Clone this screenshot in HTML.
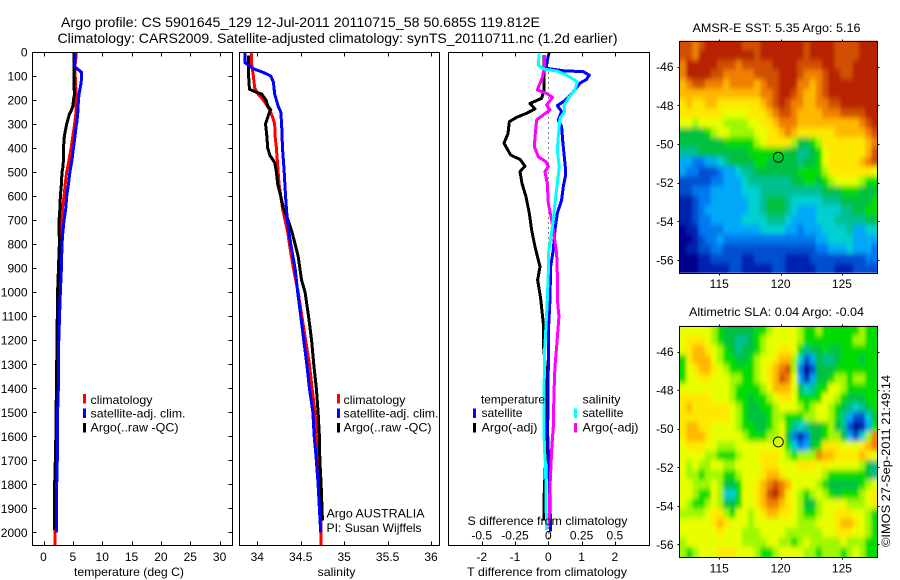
<!DOCTYPE html>
<html lang="en">
<head>
<meta charset="utf-8">
<title>Argo profile</title>
<style>
html,body{margin:0;padding:0;background:#fff;}
svg{display:block;}
text{font-family:"Liberation Sans",sans-serif;font-size:12px;fill:#000;}
</style>
</head>
<body>
<svg id="chart" xmlns="http://www.w3.org/2000/svg" width="900" height="580" viewBox="0 0 900 580">
<rect x="0" y="0" width="900" height="580" fill="#fff"/>
<g id="plots"></g>
<g id="labels">
<text x="61" y="27" style="font-size:14px" textLength="479" lengthAdjust="spacingAndGlyphs">Argo profile: CS 5901645_129 12-Jul-2011 20110715_58 50.685S 119.812E</text>
<text x="57.5" y="43" style="font-size:14px" textLength="560" lengthAdjust="spacingAndGlyphs">Climatology: CARS2009. Satellite-adjusted climatology: synTS_20110711.nc (1.2d earlier)</text>
<text x="74" y="576" textLength="110" lengthAdjust="spacingAndGlyphs">temperature (deg C)</text>
<text x="317.5" y="576" textLength="38" lengthAdjust="spacingAndGlyphs">salinity</text>
<text x="467" y="576" textLength="160" lengthAdjust="spacingAndGlyphs">T difference from climatology</text>
<text x="467.5" y="525" textLength="160" lengthAdjust="spacingAndGlyphs">S difference from climatology</text>
<text x="326.5" y="517.5" textLength="98" lengthAdjust="spacingAndGlyphs">Argo AUSTRALIA</text>
<text x="326.5" y="532" textLength="95" lengthAdjust="spacingAndGlyphs">PI: Susan Wijffels</text>
<text x="692.5" y="32" textLength="168" lengthAdjust="spacingAndGlyphs">AMSR-E SST: 5.35 Argo: 5.16</text>
<text x="689" y="316" textLength="175" lengthAdjust="spacingAndGlyphs">Altimetric SLA: 0.04 Argo: -0.04</text>
<text transform="translate(890,547) rotate(-90)" x="0" y="0" textLength="172" lengthAdjust="spacingAndGlyphs">©IMOS 27-Sep-2011 21:49:14</text>
</g>
<g id="legends">
<g>
<rect x="83" y="394" width="3" height="9.5" fill="#f00"/>
<rect x="83" y="408.5" width="3" height="9.5" fill="#00f"/>
<rect x="83" y="423" width="3" height="9.5" fill="#000"/>
<text x="90.5" y="404" textLength="62" lengthAdjust="spacingAndGlyphs">climatology</text>
<text x="90.5" y="417.5" textLength="95" lengthAdjust="spacingAndGlyphs">satellite-adj. clim.</text>
<text x="90.5" y="431.5" textLength="88" lengthAdjust="spacingAndGlyphs">Argo(..raw -QC)</text>
</g>
<g>
<rect x="337" y="394" width="3" height="9.5" fill="#f00"/>
<rect x="337" y="408.5" width="3" height="9.5" fill="#00f"/>
<rect x="337" y="423" width="3" height="9.5" fill="#000"/>
<text x="343.5" y="404" textLength="62" lengthAdjust="spacingAndGlyphs">climatology</text>
<text x="343.5" y="417.5" textLength="95" lengthAdjust="spacingAndGlyphs">satellite-adj. clim.</text>
<text x="343.5" y="431.5" textLength="88" lengthAdjust="spacingAndGlyphs">Argo(..raw -QC)</text>
</g>
<g>
<rect x="473" y="408.5" width="3" height="9.5" fill="#00f"/>
<rect x="473" y="423" width="3" height="9.5" fill="#000"/>
<rect x="574" y="408.5" width="3" height="9.5" fill="#0ff"/>
<rect x="574" y="423" width="3" height="9.5" fill="#f0f"/>
<text x="481" y="403.5" textLength="64" lengthAdjust="spacingAndGlyphs">temperature</text>
<text x="481.5" y="417" textLength="41" lengthAdjust="spacingAndGlyphs">satellite</text>
<text x="481.5" y="431.5" textLength="56" lengthAdjust="spacingAndGlyphs">Argo(-adj)</text>
<text x="582.5" y="403.5" textLength="38" lengthAdjust="spacingAndGlyphs">salinity</text>
<text x="582.5" y="417" textLength="41" lengthAdjust="spacingAndGlyphs">satellite</text>
<text x="582.5" y="431.5" textLength="56" lengthAdjust="spacingAndGlyphs">Argo(-adj)</text>
</g>
</g>
</svg>
<script>
// Depth axis ticks
const depthTicks = [0,100,200,300,400,500,600,700,800,900,1000,1100,1200,1300,1400,1500,1600,1700,1800,1900,2000];
const tempTicks = [0,5,10,15,20,25,30];
const salTicks = [34,34.5,35,35.5,36];
const salTickLabels = ['34','34.5','35','35.5','36'];
const tDiffTicks = [-2,-1,0,1,2];
const sDiffTicks = [-0.5,-0.25,0,0.25,0.5];
const sDiffTickLabels = ['-0.5','-0.25','0','0.25','0.5'];
const lonTicks = [115,120,125];
const latTicks = [-46,-48,-50,-52,-54,-56];

// Temperature profiles
const climTempDepth = [5,50,100,150,200,250,300,350,400,450,500,550,600,650,700,800,1000,1300,1600,1800,2000,2054];
const climTemp = [5.6,5.4,5.4,5.5,5.55,5.55,5.3,5.0,4.7,4.35,3.95,3.7,3.5,3.25,3.15,2.9,2.7,2.35,2.25,2.1,1.95,1.95];
const argoTempDepth = [5,50,100,150,175,200,225,240,260,300,350,400,450,480,500,550,600,650,700,800,900,1000,1300,1650,1800,1990];
const argoTemp = [5.2,5.2,5.2,5.2,5.3,5.1,5.0,4.8,4.4,3.95,3.55,3.4,3.4,3.3,3.15,3.05,2.87,2.8,2.65,2.7,2.55,2.4,2.25,2.07,1.9,1.9];
const satTempDepth = [5,60,70,85,100,130,175,200,250,290,310,350,400,450,500,550,600,650,700,750,800,900,1000,1200,1400,1500,1700,1800,1900,2000];
const satTemp = [5.4,5.3,5.75,6.5,6.5,6.4,6.05,5.95,5.85,5.7,5.55,5.37,5.1,4.85,4.5,4.25,3.95,3.8,3.5,3.3,3.15,3.05,2.87,2.6,2.53,2.4,2.35,2.25,2.2,2.2];

// Salinity profiles
const climSalDepth = [5,50,100,150,175,200,240,275,300,350,400,450,500,550,600,650,700,750,800,900,1000,1300,1400,1500,1600,1700,1800,1900,2054];
const climSal = [33.93,33.935,33.955,33.97,34.01,34.07,34.14,34.18,34.2,34.205,34.22,34.23,34.24,34.25,34.27,34.29,34.32,34.35,34.37,34.415,34.47,34.6,34.63,34.665,34.68,34.71,34.72,34.73,34.735];
const argoSalDepth = [15,100,155,165,175,200,225,240,260,300,350,400,430,460,500,550,600,650,700,750,800,850,900,950,1000,1100,1200,1300,1400,1500,1600,1700,1800,1900,1950];
const argoSal = [33.9,33.9,33.91,33.97,34.05,34.1,34.12,34.155,34.13,34.095,34.11,34.12,34.145,34.2,34.22,34.235,34.27,34.3,34.355,34.4,34.435,34.47,34.49,34.51,34.55,34.59,34.625,34.65,34.68,34.7,34.715,34.72,34.735,34.745,34.75];
const satSalDepth = [5,45,55,70,85,100,125,175,225,250,300,400,500,600,700,800,900,1000,1300,1400,1500,1600,1700,1800,1900,2000];
const satSal = [33.86,33.86,33.9,33.955,34.07,34.155,34.185,34.2,34.24,34.27,34.28,34.29,34.31,34.325,34.345,34.385,34.435,34.465,34.57,34.6,34.64,34.655,34.68,34.7,34.715,34.73];

// Difference profiles
const tSatDepth = [0,47,68,78,82,96,114,130,158,189,207,223,248,283,311,366,422,477,519,561,616,672,741,824,894,1032,1143,1310,1587,1699,1865,1997];
const tSatDiff = [0.03,-0.05,-0.05,0.45,1.05,1.23,1.15,0.95,0.8,0.6,0.45,0.27,0.4,0.3,0.4,0.43,0.47,0.51,0.51,0.45,0.4,0.27,0.2,0.15,0.07,0.05,0.01,0,-0.02,0.01,0.05,0.07];
const tArgoDepth = [12,89,158,193,214,237,255,272,290,339,380,429,447,475,498,547,602,672,741,810,894,949,1026,1130,1213,1310,1587,1865,1950];
const tArgoDiff = [-0.13,-0.13,-0.13,-0.2,-0.55,-0.4,-0.65,-0.95,-1.17,-1.21,-1.33,-1.13,-0.85,-0.7,-0.85,-0.79,-0.67,-0.57,-0.5,-0.4,-0.25,-0.32,-0.23,-0.15,-0.15,-0.09,-0.05,-0.13,-0.13];
const sSatDepth = [6,54,71,79,96,124,158,193,223,248,276,352,408,477,547,630,699,769,838,921,1032,1143,1240,1448,1643,1726,1865,1990];
const sSatDiff = [-0.0675,-0.075,-0.0375,0.0625,0.1375,0.2175,0.2,0.15,0.1175,0.1225,0.0875,0.075,0.0675,0.0825,0.0675,0.05,0.0375,0.02,0,0,-0.0075,-0.0175,-0.0275,-0.0325,-0.03,-0.02,-0.0175,-0.0125];
const sArgoDepth = [12,61,103,158,172,189,221,241,283,339,394,436,457,477,498,547,630,699,769,838,921,1026,1101,1226,1310,1421,1560,1657,1726,1810,1920,1976];
const sArgoDiff = [-0.03,-0.03,-0.0425,-0.0825,-0.0125,0.0325,-0.0125,0.0125,-0.0875,-0.0975,-0.105,-0.075,-0.0175,0,-0.025,-0.0075,0,0.025,0.045,0.0625,0.0675,0.0675,0.08,0.0625,0.05,0.0425,0.0375,0.025,0.02,0.0125,0.0075,0];

// Float position
const argoLon = 119.812;
const argoLat = -50.685;

// Colour level of the SST field (rows north to south, columns west to east)
const sstLevels = [
[14,14,13,14,15,15,15,15,15,15,14,14,14,15,15,15,15,15,15,15,14,15,15,15,15,14,14,14,14,15,15,15],
[14,14,13,15,15,15,15,15,15,15,15,15,14,15,15,15,15,15,15,15,14,15,15,15,15,14,14,14,14,15,15,15],
[13,15,15,15,15,15,14,14,14,13,14,14,14,14,14,15,15,15,15,14,14,14,14,15,15,14,14,14,15,15,15,15],
[13,15,15,15,15,14,14,13,13,13,13,13,14,14,14,14,15,15,15,14,13,13,13,14,15,15,14,14,15,15,15,15],
[12,13,14,14,13,13,13,12,13,13,13,13,12,13,14,14,15,15,15,13,13,12,13,14,15,15,15,15,15,15,15,15],
[12,12,12,12,12,12,12,12,12,12,12,12,12,13,13,14,15,15,14,13,12,12,13,14,15,15,15,15,15,15,15,15],
[11,12,11,11,12,12,11,11,11,11,11,11,11,12,13,14,15,14,13,13,12,12,13,13,14,14,15,15,15,15,15,15],
[11,11,11,11,11,11,11,10,10,10,10,11,11,11,12,13,14,14,13,12,12,12,12,13,13,13,14,14,14,14,15,15],
[10,10,9,10,10,10,10,9,9,9,9,10,10,11,11,12,13,13,13,12,12,12,12,12,12,12,12,12,12,13,14,15],
[7,7,7,7,8,9,10,10,9,9,9,9,10,10,11,11,12,13,12,11,11,11,11,11,11,12,12,12,12,12,13,14],
[7,7,7,7,7,7,7,8,8,8,8,8,9,10,11,11,11,11,9,7,7,8,9,11,11,11,11,11,11,11,12,13],
[6,6,6,7,7,7,7,7,7,7,7,8,8,8,8,8,8,7,7,6,6,7,8,10,11,11,11,11,11,11,12,14],
[4,4,3,3,4,4,5,6,7,7,7,7,8,8,7,7,7,7,7,6,7,7,8,10,11,11,11,11,11,12,13,14],
[4,3,3,2,2,2,3,4,4,5,6,6,7,7,7,7,7,7,7,8,8,8,8,9,11,11,11,11,11,11,11,10],
[2,2,2,2,2,3,3,4,4,4,5,6,6,6,6,6,6,6,7,7,8,8,7,8,9,10,10,10,10,9,8,8],
[2,2,3,3,3,4,4,4,4,4,5,5,5,6,6,6,6,6,6,6,6,6,6,7,7,7,8,8,8,7,7,7],
[1,1,2,3,3,4,4,4,4,4,4,5,5,6,7,7,7,6,5,5,5,5,5,6,6,6,7,7,7,7,7,8],
[1,1,2,3,4,4,4,4,4,4,4,5,5,6,7,7,7,6,5,4,4,4,5,5,5,5,6,6,7,7,8,8],
[1,1,2,3,3,4,4,4,4,4,5,5,5,5,6,6,6,5,4,4,4,4,5,5,5,6,6,6,6,6,7,7],
[0,1,1,3,3,3,3,4,4,4,4,4,4,5,5,5,5,4,4,3,4,4,4,5,5,5,5,6,4,4,5,5],
[0,0,1,2,3,3,4,3,3,3,3,3,3,3,3,3,3,3,3,3,3,3,4,4,5,5,5,5,4,4,4,4],
[0,1,1,2,2,3,3,2,2,2,2,2,2,2,2,2,2,2,2,2,2,2,3,3,4,4,4,5,4,4,4,3],
[0,0,0,1,1,2,2,2,2,2,1,1,2,2,2,2,2,1,1,1,1,2,2,2,2,2,2,2,2,2,3,3],
[0,0,0,1,1,1,1,1,2,2,1,1,1,1,1,2,2,1,1,1,1,1,2,2,2,1,1,1,2,2,2,2]
];

// Colour level of the SLA field (rows north to south, columns west to east)
const slaLevels = [
[10,10,10,10,10,9,8,7,7,7,7,7,8,8,9,10,10,10,10,9,8,8,9,8,8,8,8,8,8,9,8,8],
[10,11,11,11,10,9,8,7,7,6,6,7,8,9,10,10,10,10,10,9,8,8,8,8,8,8,8,8,9,9,8,8],
[10,11,12,12,11,10,9,8,7,6,7,7,8,9,10,10,11,11,10,8,6,7,7,8,7,7,8,8,8,8,8,8],
[8,11,12,12,12,10,9,8,8,7,7,8,9,10,10,11,12,12,9,5,2,4,7,6,6,7,8,8,8,7,8,8],
[8,10,11,12,12,11,10,9,8,8,8,8,9,10,11,12,13,14,9,3,0,2,7,7,7,8,8,8,8,8,8,8],
[8,10,10,11,11,10,10,10,9,9,8,8,9,10,11,12,14,13,10,4,1,4,7,7,8,9,9,8,9,9,8,8],
[10,10,10,10,10,10,10,10,9,8,8,8,8,9,10,12,12,12,10,7,5,6,8,8,10,10,9,8,8,8,8,8],
[11,11,11,11,11,10,10,10,9,8,8,7,8,8,9,10,11,11,10,8,8,8,8,10,10,9,8,7,7,7,8,8],
[11,12,11,11,11,11,11,11,10,9,8,7,7,8,8,9,10,10,10,9,8,9,10,10,9,8,7,6,5,6,7,8],
[11,11,11,11,11,11,11,11,10,9,8,7,7,7,8,9,9,8,8,8,9,9,10,10,9,8,6,4,2,2,5,7],
[11,12,12,11,11,10,10,10,10,9,8,8,7,7,8,9,10,8,6,5,6,7,7,8,9,7,6,2,0,1,4,8],
[11,12,12,12,11,10,10,10,10,10,9,8,8,8,9,9,10,7,3,1,3,7,7,8,9,9,7,4,2,5,9,13],
[10,11,11,11,10,10,9,9,9,10,10,10,10,10,10,10,10,8,5,3,4,7,8,11,11,11,10,10,10,11,12,13],
[10,10,10,10,9,9,8,8,8,9,10,10,10,11,11,11,10,9,8,9,9,9,13,12,12,11,11,11,11,12,11,10],
[10,9,10,9,9,10,10,9,9,10,10,10,10,11,11,11,10,10,10,11,11,11,10,11,10,10,10,10,10,9,7,6],
[10,9,9,8,9,9,9,8,8,9,10,10,10,11,12,12,11,10,10,10,10,10,10,9,8,8,8,8,8,8,7,6],
[10,10,9,9,9,10,9,7,7,8,10,10,11,12,13,14,13,12,10,10,10,10,9,8,7,7,7,7,7,8,9,10],
[10,10,9,8,8,10,9,5,5,8,10,10,11,12,14,15,13,11,10,9,8,9,10,9,8,7,8,8,8,9,10,11],
[10,9,8,8,9,10,9,7,7,8,10,10,11,12,13,13,12,11,10,9,7,7,9,10,10,10,10,9,9,9,10,11],
[9,9,9,9,10,11,11,9,8,10,10,9,10,11,12,12,11,11,10,9,8,8,9,10,10,11,11,11,10,10,9,8],
[10,10,10,10,10,11,12,11,10,10,10,9,10,10,10,10,10,10,10,9,9,9,10,10,10,11,12,12,11,10,9,8],
[10,10,10,10,10,10,11,10,10,10,9,9,9,10,10,10,10,9,9,9,9,9,9,10,10,11,11,11,10,10,9,8],
[9,10,10,10,10,10,10,10,10,10,9,9,9,9,10,10,9,9,8,9,10,9,9,9,9,9,10,9,9,9,8,8],
[9,8,9,10,10,10,11,11,11,10,10,10,9,8,8,9,10,10,10,10,9,9,8,9,9,9,8,9,10,9,8,8]
];

const levelColors = ['#00008f','#0020b0','#0050d0','#0078f0','#00a8f8','#00d0d0','#00c090','#00c040','#00dc00','#a0f800','#e8ff00','#ffe800','#ffb800','#f08000','#d05000','#b82000'];

const SVGNS = 'http://www.w3.org/2000/svg';
const plots = document.getElementById('plots');
function make(parent, tag, attrs, content) {
  const n = document.createElementNS(SVGNS, tag);
  for (const k in attrs) n.setAttribute(k, attrs[k]);
  if (content !== undefined) n.textContent = content;
  parent.appendChild(n);
  return n;
}

// Axis scales
function yDepth(d) { return 52 + d * 0.2402; }
function xTemp(t) { return 43.5 + t * 5.87; }
function xSal(s) { return 257.3 + (s - 34) * 86.85; }
function xTDiff(t) { return 548.3 + t * 33.3; }
function xSDiff(s) { return 548.3 + s * 4 * 33.3; }
function xLon(lon) { return 780.6 + (lon - 120) * 12.27; }
function ySstLat(lat) { return 66.7 + (-46 - lat) * 19.33; }
function ySlaLat(lat) { return 351.7 + (-46 - lat) * 19.26; }

function frame(x0, x1, y0, y1, name) {
  const f = make(plots, 'rect', {x: x0, y: y0, width: x1 - x0, height: y1 - y0, fill: 'none', stroke: '#000', 'stroke-width': 1, 'shape-rendering': 'crispEdges'});
  
  
}
function tick(x1, y1, x2, y2) {
  const t = make(plots, 'line', {x1: x1, y1: y1, x2: x2, y2: y2, stroke: '#000', 'stroke-width': 1, 'shape-rendering': 'crispEdges'});
  
  
}
function label(x, y, str, anchor) {
  const t = make(plots, 'text', {x: x, y: y, 'text-anchor': anchor}, str);
  
  
}
function series(depths, values, xf, color, name, width) {
  let pts = '';
  for (let i = 0; i < depths.length; i++) pts += xf(values[i]).toFixed(2) + ',' + yDepth(depths[i]).toFixed(2) + ' ';
  const l = make(plots, 'polyline', {points: pts, fill: 'none', stroke: color, 'stroke-width': width, 'stroke-linejoin': 'round', 'shape-rendering': 'crispEdges'});
  
  
}

const TOP = 52.5, BOT = 545.5;

// Panel 1: temperature
series(climTempDepth, climTemp, xTemp, '#f00', 'temperature-climatology-line', 3);
series(argoTempDepth, argoTemp, xTemp, '#000', 'temperature-argo-line', 3);
series(satTempDepth, satTemp, xTemp, '#00f', 'temperature-satellite-line', 3);
frame(32.5, 232.5, TOP, BOT, 'temperature-axes');
depthTicks.forEach(function (d) {
  const y = Math.round(yDepth(d)) + 0.5;
  tick(32.5, y, 36.5, y);
  tick(228.5, y, 232.5, y);
  label(27.5, yDepth(d) + 4.5, String(d), 'end');
});
tempTicks.forEach(function (t) {
  const x = Math.round(xTemp(t)) + 0.5;
  tick(x, TOP, x, TOP + 4);
  tick(x, BOT - 4, x, BOT);
  label(xTemp(t), 561, String(t), 'middle');
});

// Panel 2: salinity
series(climSalDepth, climSal, xSal, '#f00', 'salinity-climatology-line', 3);
series(argoSalDepth, argoSal, xSal, '#000', 'salinity-argo-line', 3);
series(satSalDepth, satSal, xSal, '#00f', 'salinity-satellite-line', 3);
frame(239.5, 439.5, TOP, BOT, 'salinity-axes');
salTicks.forEach(function (s, i) {
  const x = Math.round(xSal(s)) + 0.5;
  tick(x, TOP, x, TOP + 4);
  tick(x, BOT - 4, x, BOT);
  label(xSal(s), 561, salTickLabels[i], 'middle');
});

// Panel 3: differences
const zeroLine = make(plots, 'line', {x1: xTDiff(0), y1: TOP, x2: xTDiff(0), y2: BOT, stroke: '#000', 'stroke-width': 1, 'stroke-dasharray': '1 4', 'shape-rendering': 'crispEdges'});


series(tArgoDepth, tArgoDiff, xTDiff, '#000', 't-argo-difference-line', 3);
series(tSatDepth, tSatDiff, xTDiff, '#00f', 't-satellite-difference-line', 3);
series(sArgoDepth, sArgoDiff, xSDiff, '#f0f', 's-argo-difference-line', 3);
series(sSatDepth, sSatDiff, xSDiff, '#0ff', 's-satellite-difference-line', 3);
frame(448.5, 649.5, TOP, BOT, 'difference-axes');
tDiffTicks.forEach(function (t) {
  const x = Math.round(xTDiff(t)) + 0.5;
  tick(x, TOP, x, TOP + 4);
  tick(x, BOT - 4, x, BOT);
  label(xTDiff(t), 561, String(t), 'middle');
});
sDiffTicks.forEach(function (s, i) {
  label(xSDiff(s), 539.5, sDiffTickLabels[i], 'middle');
});

// Map panels
const defs = make(plots, 'defs', {});
const blurFilter = make(defs, 'filter', {id: 'soften', x: '-5%', y: '-5%', width: '110%', height: '110%'});
make(blurFilter, 'feGaussianBlur', {stdDeviation: '1.6 2.6'});

function mapPanel(levels, yf, top, bottom, cellName, panelName, clipId) {
  const left = 680, right = 877.5;
  const lonW = 111.8, lonE = 127.9;
  const latN = -46 + (yf(-46) - top) / 19.3, latS = -46 - (bottom - yf(-46)) / 19.3;
  const clip = make(defs, 'clipPath', {id: clipId});
  make(clip, 'rect', {x: left, y: top, width: right - left, height: bottom - top});
  const outer = make(plots, 'g', {'clip-path': 'url(#' + clipId + ')'});
  
  
  const field = make(outer, 'g', {filter: 'url(#soften)'});
  const rows = levels.length, cols = levels[0].length;
  for (let r = 0; r < rows; r++) {
    for (let c = 0; c < cols; c++) {
      const lon0 = lonW + (lonE - lonW) * c / cols, lon1 = lonW + (lonE - lonW) * (c + 1) / cols;
      const lat0 = latN + (latS - latN) * r / rows, lat1 = latN + (latS - latN) * (r + 1) / rows;
      let x0 = xLon(lon0), x1 = xLon(lon1), y0 = yf(lat0), y1 = yf(lat1);
      if (c === 0) x0 -= 12;
      if (c === cols - 1) x1 += 12;
      if (r === 0) y0 -= 12;
      if (r === rows - 1) y1 += 12;
      const cell = make(field, 'rect', {x: x0.toFixed(2), y: y0.toFixed(2), width: (x1 - x0 + 0.6).toFixed(2), height: (y1 - y0 + 0.6).toFixed(2), fill: levelColors[levels[r][c]]});
      
      
    }
  }
  frame(left - 0.5, right, Math.round(top) + 0.5, Math.round(bottom) + 0.5, panelName + '-frame');
  lonTicks.forEach(function (lon) {
    const x = Math.round(xLon(lon)) + 0.5;
    tick(x, Math.round(top) - 1.5, x, Math.round(top) + 0.5);
    tick(x, Math.round(bottom) + 0.5, x, Math.round(bottom) + 2.5);
    label(xLon(lon), bottom + 15.5, String(lon), 'middle');
  });
  latTicks.forEach(function (lat) {
    const y = Math.round(yf(lat)) + 0.5;
    tick(right, y, right + 2, y);
    tick(left - 2.5, y, left - 0.5, y);
    label(673.5, yf(lat) + 4.5, String(lat), 'end');
  });
  const marker = make(plots, 'circle', {cx: xLon(argoLon), cy: yf(argoLat), r: 5, fill: 'none', stroke: '#000', 'stroke-width': 0.9});
  
  
}
mapPanel(sstLevels, ySstLat, 40.7, 272.7, 'sst-cell', 'sst-map', 'sst-clip');
mapPanel(slaLevels, ySlaLat, 325.7, 557, 'sla-cell', 'sla-map', 'sla-clip');
</script>
</body>
</html>
